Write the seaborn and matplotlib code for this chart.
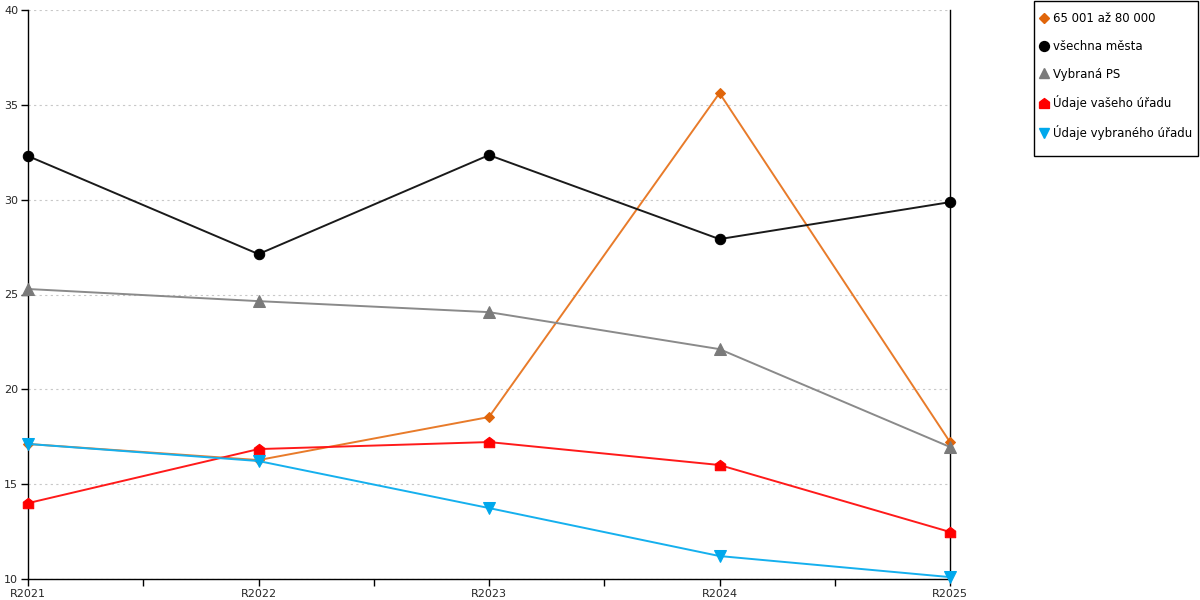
import matplotlib
matplotlib.use('Agg')
import matplotlib.pyplot as plt
from matplotlib.lines import Line2D
from matplotlib.patches import Rectangle
from matplotlib.ticker import FixedLocator
import seaborn as sns
import pandas as pd

years = ['R2021', 'R2022', 'R2023', 'R2024', 'R2025']
names = ['65 001 až 80 000', 'všechna města', 'Vybraná PS',
         'Údaje vašeho úřadu', 'Údaje vybraného úřadu']
v_orange = [17.12, 16.27, 18.54, 35.62, 17.22]
v_black = [32.30, 27.13, 32.35, 27.92, 29.87]
v_grey = [25.29, 24.65, 24.07, 22.12, 16.96]
v_red = [14.00, 16.85, 17.22, 16.01, 12.48]
v_blue = [17.12, 16.22, 13.74, 11.21, 10.10]

house = [(-1, -1), (1, -1), (1, 0.25), (0, 1), (-1, 0.25), (-1, -1)]

# styles per series
styles = [
    dict(color='#E87B2A', mfc='#E0650A', marker='D', ms=5.5),
    dict(color='#1a1a1a', mfc='#000000', marker='o', ms=7.5),
    dict(color='#8a8a8a', mfc='#7a7a7a', marker='^', ms=8),
    dict(color='#FF1A1A', mfc='#FF0000', marker=house, ms=7.5),
    dict(color='#15B0EE', mfc='#00A8EC', marker='v', ms=8),
]
values = [v_orange, v_black, v_grey, v_red, v_blue]

sns.set_style('white')
plt.rcParams['font.family'] = ['DejaVu Sans']

fig = plt.figure(figsize=(12, 6), dpi=100)
ax = fig.add_axes([28 / 1200, 21 / 600, 922 / 1200, 569 / 600])

for name, vals, st in zip(names, values, styles):
    df = pd.DataFrame({'year': years, 'value': vals})
    sns.lineplot(data=df, x='year', y='value', ax=ax, color=st['color'],
                 marker=st['marker'], markersize=st['ms'],
                 markerfacecolor=st['mfc'], markeredgecolor=st['mfc'],
                 linewidth=1.4, clip_on=False, zorder=3)

ax.set_xlim(0, len(years) - 1)
ax.set_ylim(10, 40)
ax.set_yticks([10, 15, 20, 25, 30, 35, 40])
ax.set_xticks(range(len(years)))
ax.set_xticklabels(years)
ax.xaxis.set_minor_locator(FixedLocator([0.5, 1.5, 2.5, 3.5]))
ax.set_xlabel('')
ax.set_ylabel('')
ax.grid(axis='y', color='#c8c8c8', linestyle=(0, (2, 3)), linewidth=0.8)
ax.grid(axis='x', visible=False)
ax.tick_params(axis='both', which='both', direction='out', length=5,
               width=1, color='black', labelsize=8, pad=2, bottom=True, left=True)

for s in ['left', 'bottom', 'right']:
    ax.spines[s].set_color('black')
    ax.spines[s].set_linewidth(1)
ax.spines['top'].set_visible(False)

handles = [Line2D([], [], linestyle='none', marker=st['marker'],
                  markersize=st['ms'] * 0.95, markerfacecolor=st['mfc'],
                  markeredgecolor=st['mfc']) for st in styles]
leg = fig.legend(handles, names, loc='upper left',
                 bbox_to_anchor=(1039 / 1200, 588 / 600), frameon=False,
                 fontsize=8.5, handlelength=0.8, handletextpad=0.35,
                 labelspacing=1.25, borderpad=0, borderaxespad=0)
for t in leg.get_texts():
    t.set_color('black')

fig.add_artist(Rectangle((1034 / 1200, 444 / 600), 164 / 1200, 155 / 600,
                         transform=fig.transFigure, fill=False,
                         edgecolor='black', linewidth=1))

fig.savefig('out.png', dpi=100)
